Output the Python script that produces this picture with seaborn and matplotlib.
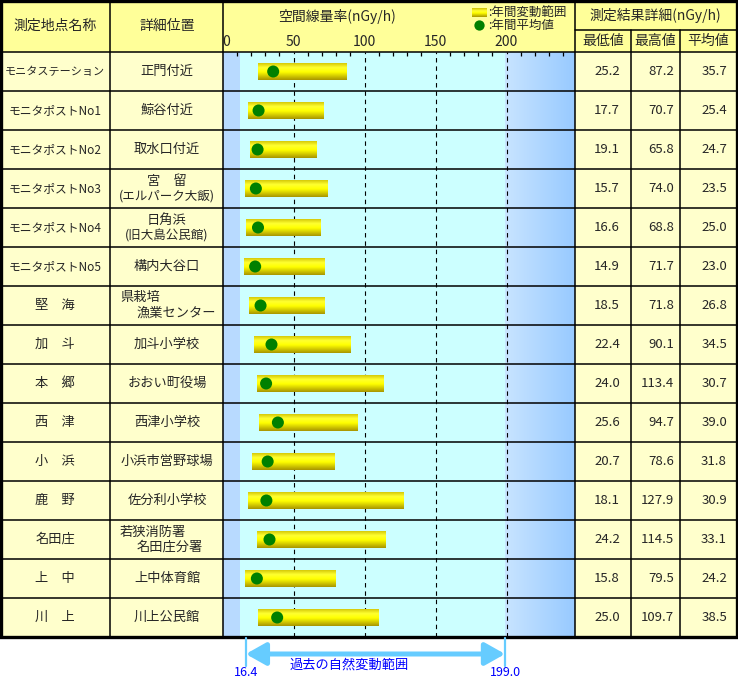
import numpy as np
import matplotlib
matplotlib.use('Agg')
import matplotlib.pyplot as plt
from matplotlib.colors import LinearSegmentedColormap
from matplotlib.transforms import blended_transform_factory
import seaborn as sns
import pandas as pd

# station data
stations = ['モニタステーション', 'モニタポストNo1', 'モニタポストNo2', 'モニタポストNo3',
            'モニタポストNo4', 'モニタポストNo5', '堅　海', '加　斗', '本　郷', '西　津',
            '小　浜', '鹿　野', '名田庄', '上　中', '川　上']
locations = ['正門付近', '鯨谷付近', '取水口付近', '宮　留\n(エルパーク大飯)',
             '日角浜\n(旧大島公民館)', '構内大谷口', '県栽培\n漁業センター', '加斗小学校',
             'おおい町役場', '西津小学校', '小浜市営野球場', '佐分利小学校',
             '若狭消防署\n名田庄分署', '上中体育館', '川上公民館']
min_vals = [25.2, 17.7, 19.1, 15.7, 16.6, 14.9, 18.5, 22.4, 24.0, 25.6, 20.7, 18.1, 24.2, 15.8, 25.0]
max_vals = [87.2, 70.7, 65.8, 74.0, 68.8, 71.7, 71.8, 90.1, 113.4, 94.7, 78.6, 127.9, 114.5, 79.5, 109.7]
mean_vals = [35.7, 25.4, 24.7, 23.5, 25.0, 23.0, 26.8, 34.5, 30.7, 39.0, 31.8, 30.9, 33.1, 24.2, 38.5]
past_low, past_high = 16.4, 199.0
axis_ticks = [0, 50, 100, 150, 200]

df = pd.DataFrame({'row': range(len(stations)), 'min': min_vals, 'max': max_vals, 'mean': mean_vals})

sns.set_style('white')
plt.rcParams['font.family'] = ['Noto Sans CJK JP', 'DejaVu Sans']

W, H = 738, 679
cols = [0, 110, 223, 575, 631, 680, 737]
head_h, sub_h, row_h = 52, 30, 39
n = len(stations)
bottom = head_h + row_h * n
px_per_unit = 1.42
x0_px = 222.5

fig = plt.figure(figsize=(W / 100, H / 100), dpi=100)
tab = fig.add_axes([0, 0, 1, 1], zorder=0)
tab.set_xlim(0, W)
tab.set_ylim(H, 0)
tab.axis('off')

# cell fills
tab.add_patch(plt.Rectangle((0, 0), W, head_h, color='#FFFF99', lw=0, zorder=0.5))
for a, b in [(0, 2), (3, 6)]:
    tab.add_patch(plt.Rectangle((cols[a], head_h), cols[b] - cols[a], bottom - head_h,
                                color='#FFFFCC', lw=0, zorder=0.5))

# header texts
tab.text(55, 26, '測定地点名称', ha='center', va='center', fontsize=10)
tab.text(167, 26, '詳細位置', ha='center', va='center', fontsize=10)
tab.text(337, 16, '空間線量率(nGy/h)', ha='center', va='center', fontsize=10)
tab.text(655, 15, '測定結果詳細(nGy/h)', ha='center', va='center', fontsize=10)
for k, lab in enumerate(['最低値', '最高値', '平均値']):
    tab.text((cols[3 + k] + cols[4 + k]) / 2, 41, lab, ha='center', va='center', fontsize=10)

# legend in header
bar_cmap = LinearSegmentedColormap.from_list(
    'bar', [(0, '#CDBE00'), (0.3, '#FFFF30'), (0.55, '#FFFF00'), (1, '#A89600')])
grad = np.linspace(0, 1, 64).reshape(-1, 1)
tab.imshow(grad, extent=(472, 487, 17, 8), aspect='auto', cmap=bar_cmap, origin='upper', zorder=2)
tab.scatter([479], [25], s=55, color='#008000', lw=0, zorder=2)
tab.text(488, 12, ':年間変動範囲', ha='left', va='center', fontsize=9)
tab.text(488, 25, ':年間平均値', ha='left', va='center', fontsize=9)
tab.set_xlim(0, W)
tab.set_ylim(H, 0)

# body texts
num_right = [620, 674, 727]
for i in range(n):
    yc = head_h + row_h * (i + 0.5)
    fs = 8.5 if stations[i].startswith('モニタポスト') else (8 if stations[i].startswith('モニタ') else 9.5)
    tab.text(55, yc, stations[i], ha='center', va='center', fontsize=fs)
    loc = locations[i]
    if i in (6, 12):
        l1, l2 = loc.split('\n')
        tab.text(120, yc - 7.5, l1, ha='left', va='center', fontsize=9.5)
        tab.text(137, yc + 8, l2, ha='left', va='center', fontsize=9.5)
    elif '\n' in loc:
        l1, l2 = loc.split('\n')
        tab.text(167, yc - 7, l1, ha='center', va='center', fontsize=9.5)
        tab.text(167, yc + 8, l2, ha='center', va='center', fontsize=9)
    else:
        tab.text(167, yc, loc, ha='center', va='center', fontsize=9.5)
    for k, v in enumerate([min_vals[i], max_vals[i], mean_vals[i]]):
        tab.text(num_right[k], yc, f'{v:.1f}', ha='right', va='center', fontsize=9.5)

# chart axis
xmax = (cols[3] - x0_px) / px_per_unit
ax = fig.add_axes([x0_px / W, (H - bottom) / H, (cols[3] - x0_px) / W, (bottom - head_h) / H], zorder=1)
ax.set_facecolor('#CCFFFF')
ax.axvspan(0, 12.3, color='#B8DAFF', lw=0, zorder=0.5)
hgrad = np.linspace(0, 1, 64).reshape(1, -1)
blue_cmap = LinearSegmentedColormap.from_list('blue', ['#C8E4FF', '#98CAFF'])
ax.imshow(hgrad, extent=(past_high, xmax, n - 0.5, -0.5), aspect='auto', cmap=blue_cmap, zorder=0.5)
for t in axis_ticks[1:]:
    ax.axvline(t, color='black', lw=0.8, dashes=(4, 3.5), zorder=1)

bars = ax.barh(df['row'], df['max'] - df['min'], left=df['min'], height=0.46,
               color='#FFFF00', lw=0, zorder=3)
for p in bars.patches:
    bx, by = p.get_x(), p.get_y()
    im = ax.imshow(grad, extent=(bx, bx + p.get_width(), by + p.get_height(), by),
                   aspect='auto', cmap=bar_cmap, origin='upper', zorder=3.5)
    im.set_clip_path(p)

sns.scatterplot(data=df, x='mean', y='row', ax=ax, s=75, color='#008000',
                edgecolor='none', zorder=5, legend=False)

ax.set_xlim(0, xmax)
ax.set_ylim(n - 0.5, -0.5)
ax.set_xlabel('')
ax.set_ylabel('')
ax.set_yticks([])
ax.xaxis.tick_top()
ax.set_xticks(axis_ticks)
ax.set_xticklabels([str(t) for t in axis_ticks], fontsize=10)
ax.get_xticklabels()[0].set_horizontalalignment('left')
ax.set_xticks(np.arange(10, 250, 10), minor=True)
ax.tick_params(axis='x', which='major', length=0, pad=2)
ax.tick_params(axis='x', which='minor', top=True, bottom=False, direction='in',
               length=3, width=0.9, color='black')
for s in ax.spines.values():
    s.set_visible(False)

# overlay for grid lines and the natural range arrow
top = fig.add_axes([0, 0, 1, 1], zorder=2)
top.set_xlim(0, W)
top.set_ylim(H, 0)
top.axis('off')
top.patch.set_alpha(0)
lw_in = 1.1
top.plot([0, W], [head_h, head_h], color='black', lw=lw_in)
for i in range(1, n):
    y = head_h + row_h * i
    top.plot([0, W], [y, y], color='black', lw=lw_in)
top.plot([cols[3], W], [sub_h, sub_h], color='black', lw=lw_in)
for c in cols[1:4]:
    top.plot([c, c], [0, bottom], color='black', lw=lw_in)
for c in cols[4:6]:
    top.plot([c, c], [sub_h, bottom], color='black', lw=lw_in)
top.add_patch(plt.Rectangle((1, 1), W - 2, bottom - 1, fill=False, ec='black', lw=2.4))

tr = blended_transform_factory(ax.transData, top.transData)
for v in (past_low, past_high):
    top.plot([v, v], [bottom + 1, 666], color='#66CCFF', lw=1.6, transform=tr)
top.annotate('', xy=(past_low, 654), xytext=(past_high, 654), xycoords=tr, textcoords=tr,
             arrowprops=dict(arrowstyle='<|-|>,head_length=0.8,head_width=0.45',
                             color='#66CCFF', lw=3.6, mutation_scale=15,
                             shrinkA=0, shrinkB=0))
top.text(89, 665, '過去の自然変動範囲', transform=tr, ha='center', va='center',
         fontsize=9.5, color='#0000FF')
top.text(past_low, 673, f'{past_low:.1f}', transform=tr, ha='center', va='center',
         fontsize=9, color='#0000FF')
top.text(past_high, 673, f'{past_high:.1f}', transform=tr, ha='center', va='center',
         fontsize=9, color='#0000FF')

fig.savefig('out.png', dpi=100, facecolor='white')
